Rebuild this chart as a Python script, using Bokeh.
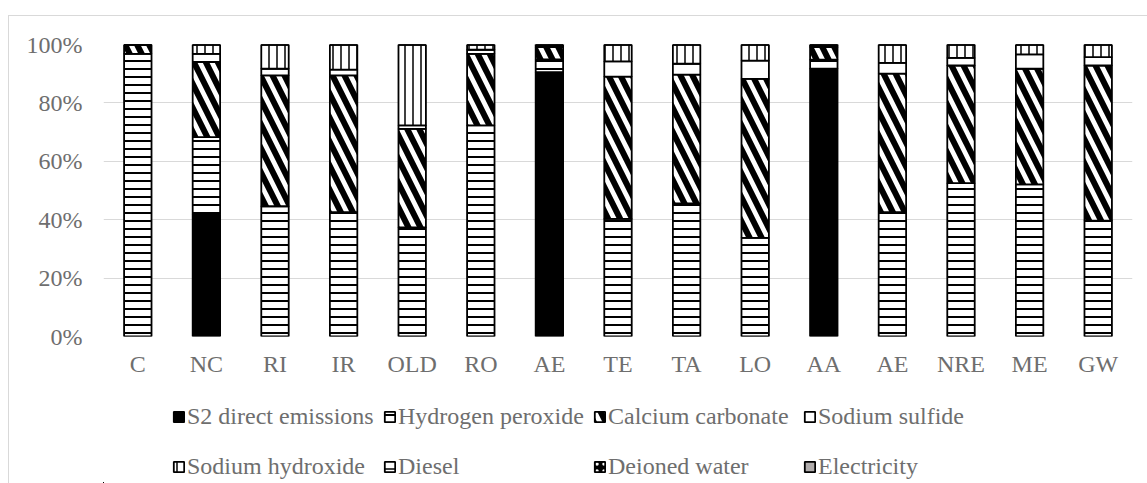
from bokeh.plotting import figure
from bokeh.layouts import column
from bokeh.models import (Range1d, FixedTicker, PrintfTickFormatter, Legend, LegendItem,
                          ColumnDataSource)
from bokeh.embed import file_html
from bokeh.resources import INLINE

# ---- data (percent of each category) ----
categories = ["C", "NC", "RI", "IR", "OLD", "RO", "AE", "TE", "TA", "LO", "AA", "AE", "NRE", "ME", "GW"]
series_names = ["S2 direct emissions", "Hydrogen peroxide", "Calcium carbonate", "Sodium sulfide",
                "Sodium hydroxide", "Diesel", "Deioned water", "Electricity"]
s2_direct   = [0, 41.8, 0, 0, 0, 0, 90.5, 0, 0, 0, 91.7, 0, 0, 0, 0]
h2o2        = [96.8, 26.5, 44.6, 42.6, 37.4, 72.3, 4.4, 40.3, 45.6, 33.8, 3.1, 42.6, 52.5, 52.1, 39.7]
caco3       = [3.2, 25.7, 44.8, 46.8, 33.7, 24.5, 4.2, 48.7, 44.1, 54.4, 4.3, 47.4, 40.3, 39.6, 53.1]
na2s        = [0, 2.8, 2.3, 2.0, 1.2, 1.4, 0.4, 5.2, 3.7, 6.3, 0.4, 3.7, 2.6, 4.9, 2.9]
naoh        = [0, 3.2, 8.3, 8.6, 27.7, 1.8, 0.5, 5.8, 6.6, 5.5, 0.5, 6.3, 4.6, 3.4, 4.3]
diesel      = [0] * 15
water       = [0] * 15
electricity = [0] * 15
y_ticks = [0, 20, 40, 60, 80, 100]

keys = ["s2", "h2o2", "caco3", "na2s", "naoh", "diesel", "water", "elec"]
src = ColumnDataSource(dict(x=list(range(len(categories))), s2=s2_direct, h2o2=h2o2, caco3=caco3,
                            na2s=na2s, naoh=naoh, diesel=diesel, water=water, elec=electricity))

# per-series styles
fills    = ["black", "white", "white", "white", "white", "white", "black", "#b0acac"]
hatches  = [" ", "-", "\\", " ", "|", "-", "dot", " "]
hcolors  = ["black", "black", "black", "black", "black", "black", "white", "black"]
hscales  = [8, 8, 24, 8, 8, 16, 7, 8]
hweights = [1, 2, 6, 1, 1.5, 1.5, 1.5, 1]
bar_style = dict(width=0.40, fill_color=fills, line_color="black", line_width=1.8,
                 hatch_pattern=hatches, hatch_color=hcolors, hatch_scale=hscales,
                 hatch_weight=hweights)

FONT = "Liberation Serif"
TXT = "#6e6e6e"
BORDER = "#d9d9d9"

# ---- main chart ----
p = figure(width=1147, height=400, output_backend="svg", toolbar_location=None,
           x_range=Range1d(-0.5, len(categories) - 0.5), y_range=Range1d(0, 100),
           min_border_left=103, min_border_right=15, min_border_top=44, min_border_bottom=64)
p.outline_line_color = None
p.border_fill_alpha = 0
p.background_fill_alpha = 0
p.styles = {"background": f"linear-gradient({BORDER},{BORDER}) 8px 15px / 1139px 1px no-repeat, "
                          f"linear-gradient({BORDER},{BORDER}) 8px 15px / 1px 385px no-repeat, white"}

p.vbar_stack(keys, x="x", source=src, **bar_style)

p.xaxis.ticker = FixedTicker(ticks=list(range(len(categories))))
p.xaxis.major_label_overrides = {i: c for i, c in enumerate(categories)}
p.yaxis.ticker = FixedTicker(ticks=y_ticks)
p.yaxis.formatter = PrintfTickFormatter(format="%d%%")
for ax in (p.xaxis, p.yaxis):
    ax.axis_line_color = None
    ax.major_tick_line_color = None
    ax.minor_tick_line_color = None
    ax.major_tick_in = 0
    ax.major_tick_out = 0
    ax.major_label_text_font = FONT
    ax.major_label_text_font_size = "24px"
    ax.major_label_text_color = TXT
p.xaxis.major_label_standoff = 14
p.yaxis.major_label_standoff = 21
p.xgrid.grid_line_color = None
p.ygrid.grid_line_color = BORDER
p.ygrid.grid_line_width = 1
p.ygrid.ticker = FixedTicker(ticks=y_ticks)

# ---- legend strip (same data source; view range keeps the bars out of sight) ----
lg = figure(width=1147, height=83, output_backend="svg", toolbar_location=None,
            x_range=Range1d(1000, 1001), y_range=Range1d(1000, 1001),
            min_border_left=0, min_border_right=0, min_border_top=0, min_border_bottom=0)
lg.axis.visible = False
lg.grid.visible = False
lg.outline_line_color = None
lg.border_fill_alpha = 0
lg.background_fill_alpha = 0
lg.styles = {"background": f"linear-gradient({BORDER},{BORDER}) 8px 0px / 1px 83px no-repeat, white"}

leg_renderers = lg.vbar_stack(keys, x="x", source=src, **bar_style)

col_x = [69, 280, 490, 700]   # offsets from the plot frame's left edge
row_y = [53, 3]               # offsets from the strip's bottom edge
for i, (name, r) in enumerate(zip(series_names, leg_renderers)):
    row, col = divmod(i, 4)
    leg = Legend(items=[LegendItem(label=name, renderers=[r])], location=(col_x[col], row_y[row]),
                 orientation="horizontal", padding=0, margin=0, spacing=0,
                 border_line_color=None, background_fill_alpha=0,
                 glyph_width=13, glyph_height=13, label_standoff=2, label_height=26,
                 label_text_font=FONT, label_text_font_size="24px", label_text_color=TXT)
    lg.add_layout(leg)

layout = column(p, lg, spacing=0)
open("out.html", "w").write(file_html(layout, INLINE))
